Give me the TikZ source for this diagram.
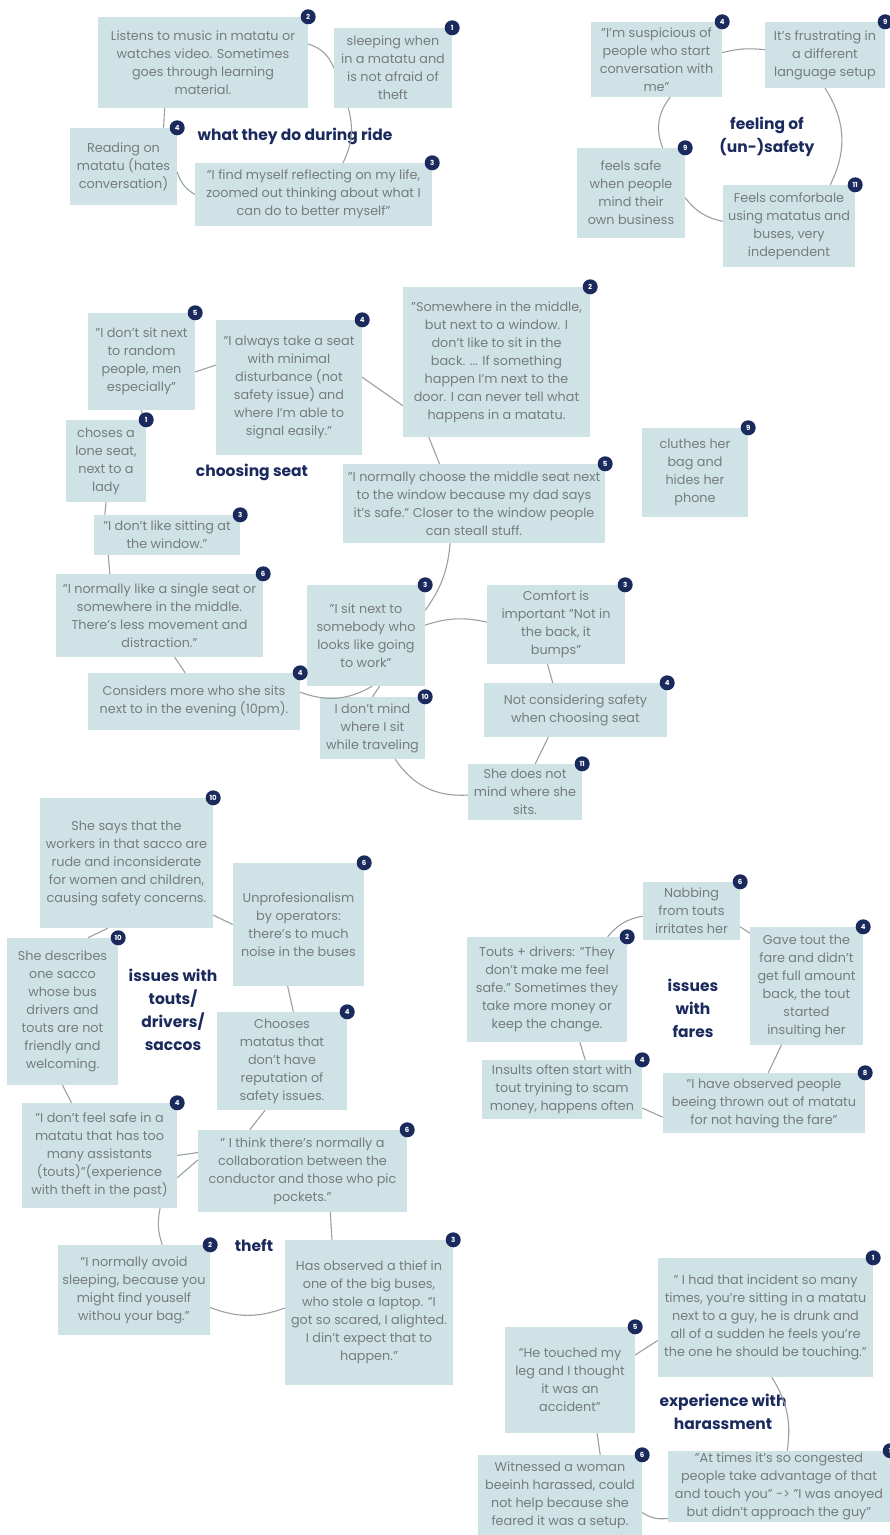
\documentclass[tikz,border=0pt]{standalone}
\usepackage{fontspec}
\setmainfont{Poppins}
\usepackage{tikz}

\definecolor{notefill}{HTML}{CFE3E6}
\definecolor{notetext}{HTML}{767C7C}
\definecolor{navy}{HTML}{1B2A5C}
\definecolor{linkgray}{HTML}{9AA0A0}

\begin{document}
\begin{tikzpicture}[x=1pt, y=-1pt,
    note/.style={fill=notefill, text=notetext, align=center, inner sep=2pt, font=\fontsize{12.8}{18}\selectfont},
    topic/.style={text=navy, align=center, font=\fontsize{15.5}{23}\selectfont\bfseries},
    badge/.style={circle, fill=navy, text=white, minimum size=15pt, inner sep=0pt, font=\fontsize{7}{7}\selectfont\bfseries},
    link/.style={draw=linkgray, line width=1.1pt}
]
    \useasboundingbox (0,0) rectangle (890,1535);

    % What they do during ride
    \node[note, minimum width=210, minimum height=91] (listen) at (203,62.5) {Listens to music in matatu or\\watches video. Sometimes\\goes through learning\\material.};
    \node[note, minimum width=118, minimum height=80] (sleep) at (393,68) {sleeping when\\in a matatu and\\is not afraid of\\theft};
    \node[note, minimum width=107, minimum height=77] (read) at (123.5,166.5) {Reading on\\matatu (hates\\conversation)};
    \node[note, minimum width=237, minimum height=63] (reflect) at (313.5,194.5) {"I find myself reflecting on my life,\\zoomed out thinking about what I\\can do to better myself"};
    \node[topic] (ride) at (295,136) {what they do during ride};

    \draw[link] (listen.10) to[bend left=25] (sleep.west);
    \draw[link] (sleep.222) to[bend left=20] (reflect.47);
    \draw[link] (listen.230) -- (read.44);
    \draw[link] (read.-6) to[bend right=20] (reflect.west);

    % Feeling of (un-)safety
    \node[note, minimum width=131, minimum height=75] (suspect) at (656.5,59.5) {"I'm suspicious of\\people who start\\conversation with\\me"};
    \node[note, minimum width=120, minimum height=66] (language) at (825,55) {It's frustrating in\\a different\\language setup};
    \node[note, minimum width=108, minimum height=90] (minding) at (631,193) {feels safe\\when people\\mind their\\own business};
    \node[note, minimum width=132, minimum height=82] (independent) at (789,226) {Feels comforbale\\using matatus and\\buses, very\\independent};
    \node[topic] (safety) at (767,137) {feeling of\\(un-)safety};

    \draw[link] (suspect.6) to[bend left=10] (language.175);
    \draw[link] (language.south) to[bend left=30] (independent.45);
    \draw[link] (suspect.290) to[bend right=30] (minding.55);
    \draw[link] (minding.355) to[bend right=20] (independent.176);

    % Choosing seat
    \node[note, minimum width=107, minimum height=97] (nosit) at (141.5,361.5) {"I don't sit next\\to random\\people, men\\especially"};
    \node[note, minimum width=146, minimum height=135] (always) at (289,387.5) {"I always take a seat\\with minimal\\disturbance (not\\safety issue) and\\where I'm able to\\signal easily."};
    \node[note, minimum width=187, minimum height=150] (middle) at (496.5,362) {"Somewhere in the middle,\\but next to a window. I\\don't like to sit in the\\back. ... If something\\happen I'm next to the\\door. I can never tell what\\happens in a matatu.};
    \node[note, minimum width=80, minimum height=82] (lone) at (106,461) {choses a\\lone seat,\\next to a\\lady};
    \node[note, minimum width=262, minimum height=79] (dadsays) at (474,503.5) {"I normally choose the middle seat next\\to the window because my dad says\\it's safe." Closer to the window people\\can steall stuff.};
    \node[note, minimum width=106, minimum height=89] (clutch) at (695,472.5) {cluthes her\\bag and\\hides her\\phone};
    \node[note, minimum width=146, minimum height=40] (nowindow) at (167,535) {"I don't like sitting at\\the window."};
    \node[note, minimum width=207, minimum height=83] (single) at (159.5,615.5) {"I normally like a single seat or\\somewhere in the middle.\\There's less movement and\\distraction."};
    \node[note, minimum width=118, minimum height=101] (towork) at (366,635.5) {"I sit next to\\somebody who\\looks like going\\to work"};
    \node[note, minimum width=138, minimum height=79] (comfort) at (556,624.5) {Comfort is\\important "Not in\\the back, it\\bumps"};
    \node[note, minimum width=212, minimum height=57] (evening) at (194,701.5) {Considers more who she sits\\next to in the evening (10pm).};
    \node[note, minimum width=105, minimum height=62] (nomind) at (372.5,728) {I don't mind\\where I sit\\while traveling};
    \node[note, minimum width=183, minimum height=54] (notsafety) at (575.5,710) {Not considering safety\\when choosing seat};
    \node[note, minimum width=114, minimum height=56] (wherever) at (525,792) {She does not\\mind where she\\sits.};
    \node[topic] (seat) at (252,472) {choosing seat};

    \draw[link] (nosit.349) -- (always.163);
    \draw[link] (nosit.south) -- (lone.48);
    \draw[link] (always.8) -- (middle.205);
    \draw[link] (middle.228) -- (dadsays.131);
    \draw[link] (lone.south) -- (nowindow.162);
    \draw[link] (nowindow.199) -- (single.140);
    \draw[link] (single.290) -- (evening.107);
    \draw[link] (evening.5) to[bend right=25] (towork.277);
    \draw[link] (towork.285) -- (nomind.north);
    \draw[link] (dadsays.239) to[bend left=15] (towork.23);
    \draw[link] (towork.10) to[bend left=15] (comfort.178);
    \draw[link] (comfort.258) -- (notsafety.130);
    \draw[link] (notsafety.225) -- (wherever.70);
    \draw[link] (nomind.306) to[bend right=30] (wherever.183);

    % Issues with touts/drivers/saccos
    \node[note, minimum width=173, minimum height=130] (rude) at (126.5,863) {She says that the\\workers in that sacco are\\rude and inconsiderate\\for women and children,\\causing safety concerns.};
    \node[note, minimum width=131, minimum height=123] (noise) at (298.5,924.5) {Unprofesionalism\\by operators:\\there's to much\\noise in the buses};
    \node[note, minimum width=111, minimum height=147] (unfriendly) at (62.5,1011.5) {She describes\\one sacco\\whose bus\\drivers and\\touts are not\\friendly and\\welcoming.};
    \node[note, minimum width=130, minimum height=98] (reputation) at (282,1061) {Chooses\\matatus that\\don't have\\reputation of\\safety issues.};
    \node[topic] (touts) at (173,1010) {issues with\\touts/\\drivers/\\saccos};

    \draw[link] (rude.329) -- (noise.west);
    \draw[link] (rude.254) -- (unfriendly.71);
    \draw[link] (noise.260) -- (reputation.77);

    % Theft
    \node[note, minimum width=155, minimum height=105] (toomany) at (99.5,1155.5) {"I don't feel safe in a\\matatu that has too\\many assistants\\(touts)"(experience\\with theft in the past)};
    \node[note, minimum width=209, minimum height=82] (pickpocket) at (302.5,1171) {" I think there's normally a\\collaboration between the\\conductor and those who pic\\pockets."};
    \node[note, minimum width=152, minimum height=90] (nosleep) at (134,1290) {"I normally avoid\\sleeping, because you\\might find youself\\withou your bag."};
    \node[note, minimum width=168, minimum height=145] (laptop) at (369,1312.5) {Has observed a thief in\\one of the big buses,\\who stole a laptop. "I\\got so scared, I alighted.\\I din't expect that to\\happen."};
    \node[topic] (theft) at (254,1245) {theft};

    \draw[link] (unfriendly.south) -- (toomany.118);
    \draw[link] (reputation.251) -- (pickpocket.142);
    \draw[link] (toomany.east) -- (pickpocket.170);
    \draw[link] (toomany.344) -- (pickpocket.174);
    \draw[link] (toomany.319) to[bend right=15] (nosleep.58);
    \draw[link] (pickpocket.304) -- (laptop.117);
    \draw[link] (nosleep.347) to[bend right=20] (laptop.177);

    % Issues with fares
    \node[note, minimum width=97, minimum height=58] (nabbing) at (691.5,911) {Nabbing\\from touts\\irritates her};
    \node[note, minimum width=160, minimum height=105] (change) at (547,989.5) {Touts + drivers: "They\\don't make me feel\\safe." Sometimes they\\take more money or\\keep the change.};
    \node[note, minimum width=113, minimum height=118] (insulting) at (806.5,986) {Gave tout the\\fare and didn't\\get full amount\\back, the tout\\started\\insulting her};
    \node[note, minimum width=160, minimum height=59] (scam) at (562,1089.5) {Insults often start with\\tout tryining to scam\\money, happens often};
    \node[note, minimum width=202, minimum height=60] (thrown) at (764,1103) {"I have observed people\\beeing thrown out of matatu\\for not having the fare"};
    \node[topic] (fares) at (693,1008) {issues\\with\\fares};

    \draw[link] (change.41) to[bend left=20] (nabbing.186);
    \draw[link] (nabbing.342) -- (insulting.137);
    \draw[link] (change.302) -- (scam.52);
    \draw[link] (insulting.247) -- (thrown.82);
    \draw[link] (scam.347) -- (thrown.188);

    % Experience with harassment
    \node[note, minimum width=215, minimum height=119] (incident) at (765.5,1317.5) {" I had that incident so many\\times, you're sitting in a matatu\\next to a guy, he is drunk and\\all of a sudden he feels you're\\the one he should be touching."};
    \node[note, minimum width=130, minimum height=106] (leg) at (570,1380) {"He touched my\\leg and I thought\\it was an\\accident"};
    \node[note, minimum width=164, minimum height=80] (setup) at (560,1495) {Witnessed a woman\\beeinh harassed, could\\not help because she\\feared it was a setup.};
    \node[note, minimum width=222, minimum height=67] (congested) at (779,1486.5) {"At times it's so congested\\people take advantage of that\\and touch you" -> "I was anoyed\\but didn't approach the guy"};
    \node[topic] (harass) at (723,1412) {experience with\\harassment};

    \draw[link] (leg.21) -- (incident.192);
    \draw[link] (incident.276) to[bend left=20] (congested.77);
    \draw[link] (leg.297) -- (setup.45);
    \draw[link] (setup.348) to[bend right=20] (congested.196);

    % Count badges
    \node[badge] (listen-b) at (listen.north east) {2};
    \node[badge] (sleep-b) at (sleep.north east) {1};
    \node[badge] (read-b) at (read.north east) {4};
    \node[badge] (reflect-b) at (reflect.north east) {3};
    \node[badge] (suspect-b) at (suspect.north east) {4};
    \node[badge] (language-b) at (language.north east) {9};
    \node[badge] (minding-b) at (minding.north east) {9};
    \node[badge] (independent-b) at (independent.north east) {11};
    \node[badge] (nosit-b) at (nosit.north east) {5};
    \node[badge] (always-b) at (always.north east) {4};
    \node[badge] (middle-b) at (middle.north east) {2};
    \node[badge] (lone-b) at (lone.north east) {1};
    \node[badge] (dadsays-b) at (dadsays.north east) {5};
    \node[badge] (clutch-b) at (clutch.north east) {9};
    \node[badge] (nowindow-b) at (nowindow.north east) {3};
    \node[badge] (single-b) at (single.north east) {6};
    \node[badge] (towork-b) at (towork.north east) {3};
    \node[badge] (comfort-b) at (comfort.north east) {3};
    \node[badge] (evening-b) at (evening.north east) {4};
    \node[badge] (nomind-b) at (nomind.north east) {10};
    \node[badge] (notsafety-b) at (notsafety.north east) {4};
    \node[badge] (wherever-b) at (wherever.north east) {11};
    \node[badge] (rude-b) at (rude.north east) {10};
    \node[badge] (noise-b) at (noise.north east) {6};
    \node[badge] (unfriendly-b) at (unfriendly.north east) {10};
    \node[badge] (reputation-b) at (reputation.north east) {4};
    \node[badge] (toomany-b) at (toomany.north east) {4};
    \node[badge] (pickpocket-b) at (pickpocket.north east) {6};
    \node[badge] (nosleep-b) at (nosleep.north east) {2};
    \node[badge] (laptop-b) at (laptop.north east) {3};
    \node[badge] (nabbing-b) at (nabbing.north east) {6};
    \node[badge] (change-b) at (change.north east) {2};
    \node[badge] (insulting-b) at (insulting.north east) {4};
    \node[badge] (scam-b) at (scam.north east) {4};
    \node[badge] (thrown-b) at (thrown.north east) {8};
    \node[badge] (incident-b) at (incident.north east) {1};
    \node[badge] (leg-b) at (leg.north east) {5};
    \node[badge] (setup-b) at (setup.north east) {6};
    \node[badge] (congested-b) at (congested.north east) {1};
\end{tikzpicture}
\end{document}
